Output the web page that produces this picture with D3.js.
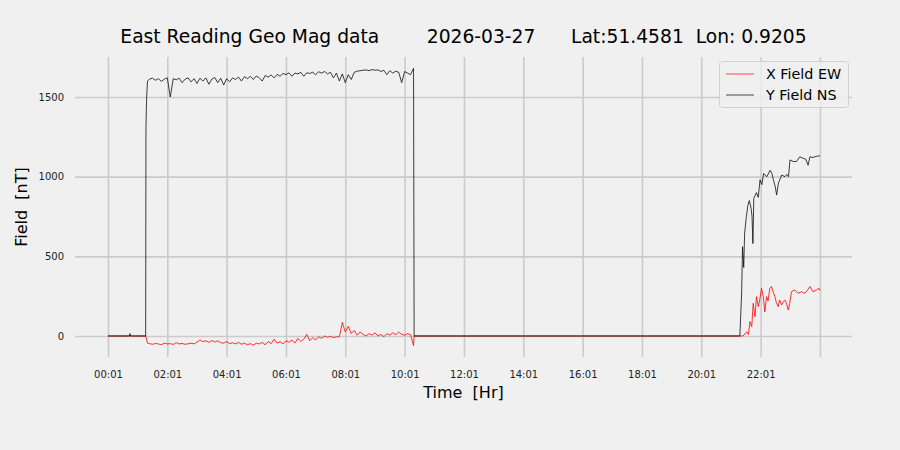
<!DOCTYPE html>
<html>
<head>
<meta charset="utf-8">
<script src="https://cdn.jsdelivr.net/npm/d3@7"></script>
<style>
  html, body { margin: 0; padding: 0; background: #f0f0f0; }
  svg { display: block; font-family: "DejaVu Sans", sans-serif; }
  text { white-space: pre; }
</style>
</head>
<body>
<svg id="chart" width="900" height="450"></svg>
<script>
// ---------------- DATA ----------------
const titleText = "East Reading Geo Mag data        2026-03-27      Lat:51.4581  Lon: 0.9205";
const seriesNames = ["X Field EW", "Y Field NS"];
const tickHours = [0, 2, 4, 6, 8, 10, 12, 14, 16, 18, 20, 22, 24];
const tickLabels = ["00:01", "02:01", "04:01", "06:01", "08:01", "10:01", "12:01", "14:01", "16:01", "18:01", "20:01", "22:01", ""];
const yTicks = [0, 500, 1000, 1500];

// quiet / transition points (hour, value)
const yLeadIn = [[0, 0], [0.72, 0], [0.74, 15], [0.76, 0], [1.27, 0], [1.28, 1300], [1.30, 1480], [1.33, 1600]];
const xLeadIn = [[0, 0], [1.27, 0], [1.30, -20], [1.33, -45]];

// daytime active period: samples every 0.1 h starting 1.4 h
const dayStart = 1.4, dayStep = 0.1;
const dayY = [1612, 1618, 1605, 1615, 1598, 1612, 1620, 1500, 1615, 1608,
  1618, 1590, 1612, 1620, 1595, 1615, 1585, 1618, 1600, 1620,
  1580, 1612, 1622, 1590, 1618, 1575, 1615, 1595, 1620, 1610,
  1625, 1600, 1628, 1615, 1630, 1610, 1632, 1620, 1600, 1635,
  1625, 1638, 1620, 1642, 1630, 1648, 1640, 1652, 1630, 1650,
  1645, 1655, 1630, 1652, 1648, 1655, 1640, 1658, 1650, 1660,
  1645, 1655, 1620, 1650, 1600, 1645, 1590, 1640, 1610, 1655,
  1662, 1665, 1668, 1670, 1665, 1672, 1668, 1670, 1660, 1668,
  1640, 1665, 1650, 1662, 1655, 1590, 1660, 1650, 1640, 1680];
const dayX = [-48, -52, -47, -50, -55, -45, -50, -48, -53, -42,
  -50, -47, -52, -49, -45, -50, -38, -25, -35, -30,
  -40, -28, -38, -30, -42, -45, -35, -48, -42, -50,
  -40, -52, -45, -55, -48, -58, -45, -50, -40, -55,
  -35, -48, -20, -45, -35, -50, -30, -40, -25, -45,
  -15, -35, -20, 10, -30, -10, -25, -5, -15, 0,
  -8, -2, -10, -5, -5, 85, 25, 60, 15, 35,
  5, 25, 10, 0, 15, 5, 20, 0, 10, -5,
  15, 5, 20, 8, 25, 10, 5, 15, 8, -60];
const dayEnd = [[10.32, 0]];

// evening active period (hour, value)
const eveHoursY = [21.20, 21.30, 21.36, 21.39, 21.43, 21.46, 21.52, 21.57, 21.62, 21.68,
  21.71, 21.74, 21.77, 21.86, 21.92, 21.98, 22.04, 22.10, 22.21, 22.32,
  22.38, 22.43, 22.49, 22.54, 22.60, 22.71, 22.82, 22.88, 22.94, 22.99,
  23.10, 23.21, 23.32, 23.43, 23.52, 23.60, 23.66, 23.77, 23.83, 23.94, 24.00];
const eveY = [0, 0, 270, 560, 430, 645, 750, 820, 850, 800,
  750, 580, 865, 900, 870, 980, 950, 1020, 1000, 1040,
  1020, 980, 940, 885, 960, 1010, 1000, 1015, 1000, 1105,
  1095, 1095, 1125, 1115, 1110, 1072, 1125, 1120, 1125, 1130, 1130];
const eveHoursX = [21.41, 21.53, 21.59, 21.64, 21.70, 21.75, 21.81, 21.86, 21.92, 21.97,
  22.03, 22.09, 22.14, 22.20, 22.25, 22.31, 22.37, 22.42, 22.48, 22.53,
  22.59, 22.64, 22.71, 22.76, 22.82, 22.87, 22.93, 22.98, 23.04, 23.15,
  23.26, 23.38, 23.49, 23.57, 23.66, 23.77, 23.88, 23.97, 24.00];
const eveX = [0, 27, 10, 90, 58, 205, 121, 247, 184, 226,
  299, 247, 152, 247, 220, 300, 310, 278, 247, 210,
  184, 226, 195, 215, 226, 205, 163, 205, 278, 289,
  268, 278, 268, 285, 310, 278, 289, 299, 285];

// ---------------- BUILD SERIES ----------------
function buildSeries(lead, day, eveH, eveV, bridge) {
  const pts = lead.slice();
  day.forEach((v, i) => pts.push([dayStart + i * dayStep, v]));
  dayEnd.forEach(p => pts.push(p));
  bridge.forEach(p => pts.push(p));
  eveH.forEach((h, i) => pts.push([h, eveV[i]]));
  return pts;
}
const seriesX = buildSeries(xLeadIn, dayX, eveHoursX, eveX, [[21.2, 0]]);
const seriesY = buildSeries(yLeadIn, dayY, eveHoursY, eveY, []);

// ---------------- CHART ----------------
const svg = d3.select("#chart");
const L = 75, R = 852, T = 57, B = 357;

svg.append("rect").attr("width", 900).attr("height", 450).attr("fill", "#f0f0f0");

const x = d3.scaleLinear().domain([-1.112, 25.08]).range([L, R]);
const y = d3.scaleLinear().domain([-131.8, 1751]).range([B, T]);

const gx = svg.append("g").attr("transform", `translate(0,${B})`)
  .call(d3.axisBottom(x).tickValues(tickHours).tickSize(-(B - T)).tickPadding(14)
    .tickFormat((d, i) => tickLabels[i]));
gx.select(".domain").remove();
gx.selectAll("line").attr("stroke", "#cbcbcb").attr("stroke-width", 1.6);
gx.selectAll("text").attr("fill", "#222").attr("font-size", 10)
  .attr("font-family", "DejaVu Sans");

const gy = svg.append("g").attr("transform", `translate(${L},0)`)
  .call(d3.axisLeft(y).tickValues(yTicks).tickSize(-(R - L)).tickPadding(11)
    .tickFormat(d3.format("d")));
gy.select(".domain").remove();
gy.selectAll("line").attr("stroke", "#cbcbcb").attr("stroke-width", 1.6);
gy.selectAll("text").attr("fill", "#222").attr("font-size", 10)
  .attr("font-family", "DejaVu Sans");

const line = d3.line().x(d => x(d[0])).y(d => y(d[1]));
svg.append("path").datum(seriesX).attr("d", line)
  .attr("fill", "none").attr("stroke", "#ff0000").attr("stroke-width", 0.8);
svg.append("path").datum(seriesY).attr("d", line)
  .attr("fill", "none").attr("stroke", "#000000").attr("stroke-width", 0.75);

// title
svg.append("text").attr("x", (L + R) / 2).attr("y", 43)
  .attr("text-anchor", "middle").attr("font-size", 18.7).attr("fill", "#000")
  .text(titleText);

// axis labels
svg.append("text").attr("x", (L + R) / 2).attr("y", 398)
  .attr("text-anchor", "middle").attr("font-size", 16).attr("fill", "#000")
  .text("Time  [Hr]");
svg.append("text").attr("transform", `translate(27,${(T + B) / 2}) rotate(-90)`)
  .attr("text-anchor", "middle").attr("font-size", 16).attr("fill", "#000")
  .text("Field  [nT]");

// legend
const lg = svg.append("g").attr("transform", "translate(719,61)");
lg.append("rect").attr("x", 0.5).attr("y", 0.5).attr("width", 129).attr("height", 46)
  .attr("rx", 3).attr("fill", "#f0f0f0").attr("fill-opacity", 0.8)
  .attr("stroke", "#d0d0d0").attr("stroke-width", 1);
const colors = ["#ff0000", "#000000"];
seriesNames.forEach((name, i) => {
  const yy = 13 + i * 21;
  lg.append("line").attr("x1", 7).attr("x2", 35).attr("y1", yy).attr("y2", yy)
    .attr("stroke", colors[i]).attr("stroke-width", 0.7);
  lg.append("text").attr("x", 47).attr("y", yy + 5).attr("font-size", 14.3)
    .attr("fill", "#000").text(name);
});
</script>
</body>
</html>
